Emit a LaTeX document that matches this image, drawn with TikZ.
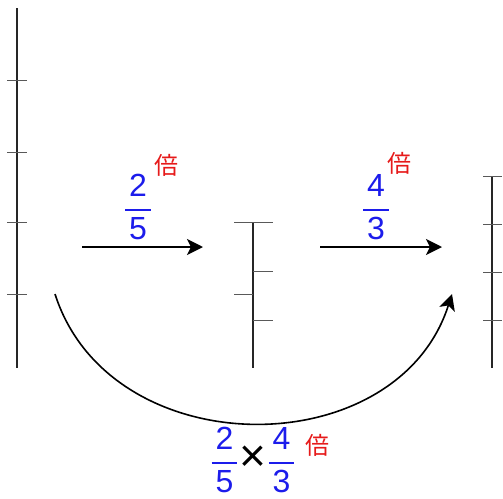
\documentclass[tikz,border=0pt]{standalone}
\usepackage{fix-cm}
\usepackage{amsmath}
\usepackage{fontspec}
\setmainfont{Liberation Sans}
\newfontfamily\cjk{Noto Sans CJK JP}
\usetikzlibrary{arrows.meta}
\definecolor{FracBlue}{HTML}{1C1CEB}
\definecolor{BaiRed}{HTML}{E61A1A}
\newcommand{\fr}[2]{$\genfrac{}{}{.8pt}{0}{\text{\hspace{.12em}#1\hspace{.12em}}}{\text{#2}}$}
\tikzset{
  bar/.style={line width=1.2pt,black!85},
  tick/.style={line width=.5pt,black!65},
  mul/.style={-{Stealth[length=8pt,width=8pt,inset=2pt]},line width=1pt},
  frac/.style={FracBlue,font=\fontsize{16}{19}\selectfont},
  bai/.style={BaiRed,font=\fontsize{12}{14}\cjk}
}

\begin{document}
\begin{tikzpicture}[x=.5pt,y=-.5pt]
        \useasboundingbox(0,0)rectangle(503,498);
        % bars
        \draw[bar](17,8)--(17,368);
        \foreach \y in {80,152,222,294}\draw[tick](7,\y)--(27,\y);
        \draw[bar](253,222)--(253,368);
        \foreach \y in {222,294}\draw[tick](234,\y)--(253,\y);
        \foreach \y in {222,271,320}\draw[tick](253,\y)--(273,\y);
        \draw[bar](492,176)--(492,368);
        \foreach \y in {176,224,272,320}\draw[tick](483,\y)--(502,\y);
        % arrows
        \coordinate(s1)at(82,247);\coordinate(e1)at(203,247);
        \coordinate(s2)at(320,247);\coordinate(e2)at(442,247);
        \coordinate(s3)at(55,294);\coordinate(e3)at(452,294);
        \draw[mul](s1)--(e1);
        \draw[mul](s2)--(e2);
        \draw[mul,line width=.8pt](s3)..controls(110,466)and(397,466)..(e3);
        % labels
        \node[frac](f1)at(138,207){\fr{2}{5}};
        \node[bai](b1)at(166,165){倍};
        \node[frac](f2)at(376,207){\fr{4}{3}};
        \node[bai](b2)at(399,163){倍};
        \node[frac](f3)at(253,460){\fr{2}{5}\raisebox{-.5pt}{\textcolor{black}{\fontsize{23}{23}\selectfont ×}}\fr{4}{3}};
        \node[bai](b3)at(317,445){倍};
      \end{tikzpicture}
\end{document}
